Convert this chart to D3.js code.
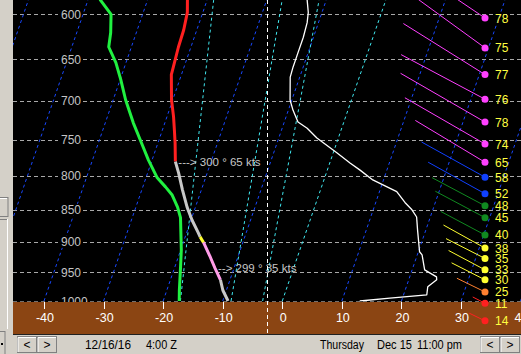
<!DOCTYPE html>
<html lang="en">
<head>
<meta charset="utf-8">
<title>Skew-T sounding</title>
<script src="https://d3js.org/d3.v7.min.js"></script>
<style>
  body { margin: 0; background: #d4d0c8; overflow: hidden; }
  svg { display: block; font-family: "Liberation Sans", Arial, sans-serif; }
</style>
</head>
<body>
<div id="chart"></div>
<script>
// grid
const pressureLevels = [600, 650, 700, 750, 800, 850, 900, 950, 1000];
const tempTicks = [-40, -30, -20, -10, 0, 10, 20, 30, 40];
const isotherms = [-70, -60, -50, -40, -30, -20, -10, 0, 10, 20, 30, 40];
// cyan mixing ratio lines: temperature at 1000 hPa and at the top (585 hPa)
const mixBottom = [-17.1, -8.6, -3.3];
const mixTop = [-28.9, -17.4, -11.2];

// dewpoint profile [hPa, °C]
const dewpoint = [[580, -48.5], [585, -47.9], [600, -45.3], [620, -44.3], [636, -43.8], [654, -41.7],
  [674, -39.9], [699, -37.9], [728, -35.3], [751, -33.1], [778, -30.6], [803, -28.1], [816, -26.2],
  [828, -24.6], [846, -23.0], [862, -21.9], [913, -19.9], [946, -18.9], [981, -17.9], [1000, -17.3]];

// temperature profile, split by colour
const tempRed = [[580, -33.5], [585, -33.3], [598, -32.6], [617, -32.2], [636, -32.1], [659, -31.8],
  [668, -31.7], [699, -30.2], [720, -28.9], [741, -27.8], [755, -27.1], [780, -26.0]];
const tempGray = [[780, -26.0], [796, -24.8], [820, -23.2], [846, -21.4], [866, -19.8], [886, -18.0], [892, -17.5]];
const tempYellow = [[892, -17.5], [901, -16.6]];
const tempPink = [[901, -16.6], [925, -14.6], [943, -13.2], [963, -11.6]];
const tempGrayLow = [[963, -11.6], [981, -10.6], [1000, -9.1]];

// white profile
const whiteLine = [[580, -13.5], [585, -13.2], [598, -12.3], [609, -11.9], [625, -11.7], [643, -11.7],
  [659, -11.7], [671, -11.6], [699, -10.3], [712, -9.2], [727, -7.7], [735, -5.8], [748, -3.6],
  [768, 0.6], [782, 3.4], [792, 5.5], [806, 8.2], [823, 12.9], [839, 14.9], [850, 16.5], [861, 17.7],
  [881, 18.6], [916, 20.2], [921, 20.8], [946, 22.1], [958, 24.5], [963, 24.7], [975, 23.6],
  [989, 23.9], [995, 17.9], [1000, 13.0]];

// winds
const windP = [604, 637, 668, 698, 727, 756, 781, 802, 826, 844, 862, 889, 910, 927, 946, 963, 984, 1004, 1036];
const windSpeed = [78, 75, 77, 76, 78, 74, 65, 58, 52, 48, 45, 40, 38, 35, 33, 30, 25, 11, 14];
const windDir = [304, 306, 302, 298, 300, 300, 301, 299, 299, 298, 298, 298, 299, 297, 298, 297, 296, 297, 296];

const windNotes = [
  { p: 780, t: -26.0, text: "---> 300 ° 65 kts" },
  { p: 943, t: -13.2, text: "--> 299 ° 35 kts" }
];
const cursorTemp = -2.6;

const width = 521, height = 354;
const plotLeft = 13, groundTop = 302, groundBottom = 334;

const svg = d3.select("#chart").append("svg").attr("width", width).attr("height", height);

const y = d3.scaleLog().domain([1000, 600]).range([301, 14.3]);
const xBase = d3.scaleLinear().domain([-40, 30]).range([44, 461]);
const skew = 0.344;
const sx = (t, p) => xBase(t) + skew * (y(1000) - y(p));
const line = d3.line().x(d => sx(d[1], d[0])).y(d => y(d[0]));

svg.append("rect").attr("x", plotLeft).attr("y", 0).attr("width", width - plotLeft).attr("height", groundBottom)
  .attr("fill", "#000");

svg.append("clipPath").attr("id", "plot")
  .append("rect").attr("x", plotLeft).attr("y", 0).attr("width", width - plotLeft).attr("height", 301.5);

const g = svg.append("g").attr("clip-path", "url(#plot)");

// pressure lines
g.selectAll(".plev").data(pressureLevels).enter().append("line")
  .attr("x1", plotLeft).attr("x2", width)
  .attr("y1", d => Math.round(y(d)) + 0.5).attr("y2", d => Math.round(y(d)) + 0.5)
  .attr("stroke", d => d === 1000 ? "#e0e0e0" : "#a8a8a8")
  .attr("stroke-dasharray", "4,3");

// isotherms
g.selectAll(".iso").data(isotherms).enter().append("line")
  .attr("x1", d => sx(d, 1000)).attr("y1", y(1000))
  .attr("x2", d => sx(d, 560)).attr("y2", y(560))
  .attr("stroke", d => d === 0 ? "#40e8f0" : "#1848ff")
  .attr("stroke-width", 1)
  .attr("stroke-dasharray", "3,3");

// mixing ratio lines
g.selectAll(".mix").data(mixBottom).enter().append("line")
  .attr("x1", d => sx(d, 1000)).attr("y1", y(1000))
  .attr("x2", (d, i) => sx(mixTop[i], 585)).attr("y2", y(585))
  .attr("stroke", "#40e8f0")
  .attr("stroke-dasharray", "3,3");

// pressure labels
const plab = svg.append("g");
plab.selectAll("rect").data(pressureLevels).enter().append("rect")
  .attr("x", 58).attr("y", d => y(d) - 6)
  .attr("width", d => d === 1000 ? 28 : 23).attr("height", 12).attr("fill", "#000");
plab.selectAll("text").data(pressureLevels).enter().append("text")
  .attr("x", 61).attr("y", d => y(d) + 4.5)
  .attr("fill", "#c4c4c4").attr("font-size", 12)
  .text(d => d);

// profiles
const lines = svg.append("g").attr("clip-path", "url(#plot)").attr("fill", "none")
  .attr("stroke-linejoin", "round");
lines.append("path").datum(whiteLine).attr("d", line).attr("stroke", "#fff").attr("stroke-width", 1.3);
lines.append("path").datum(dewpoint).attr("d", line).attr("stroke", "#20f040").attr("stroke-width", 3);
[[tempRed, "#ff2020"], [tempGray, "#c8c8c8"], [tempYellow, "#ffff30"], [tempPink, "#ff9ce8"], [tempGrayLow, "#c8c8c8"]]
  .forEach(([d, c]) => lines.append("path").datum(d).attr("d", line).attr("stroke", c).attr("stroke-width", 3));

// wind notes
svg.selectAll(".note").data(windNotes).enter().append("text")
  .attr("x", d => sx(d.t, d.p) + 3).attr("y", d => y(d.p) + 4)
  .attr("fill", "#c8c8c8").attr("font-size", 11.5)
  .attr("xml:space", "preserve")
  .text(d => d.text);

// ground
svg.append("rect").attr("x", plotLeft).attr("y", groundTop).attr("width", width - plotLeft)
  .attr("height", groundBottom - groundTop).attr("fill", "#8b4513");

// cursor line
svg.append("line").attr("x1", Math.round(xBase(cursorTemp)) + 0.5).attr("x2", Math.round(xBase(cursorTemp)) + 0.5)
  .attr("y1", 0).attr("y2", groundBottom)
  .attr("stroke", "#fff").attr("stroke-dasharray", "4,3");

// temperature ticks
const ticks = svg.append("g");
ticks.selectAll("line").data(tempTicks).enter().append("line")
  .attr("x1", d => Math.round(xBase(d)) + 0.5).attr("x2", d => Math.round(xBase(d)) + 0.5)
  .attr("y1", groundTop).attr("y2", groundTop + 7).attr("stroke", "#fff");
ticks.selectAll("text").data(tempTicks).enter().append("text")
  .attr("x", d => xBase(d) + 1).attr("y", 322)
  .attr("text-anchor", "middle").attr("fill", "#fff").attr("font-size", 12.5)
  .text(d => d);

// wind barbs
const shaft = d3.scaleLinear().domain([0, 80]).range([0, 100]);
const windColor = d3.scaleThreshold().domain([20, 30, 40, 50, 60])
  .range(["#ff2020", "#ff8030", "#ffff30", "#108a20", "#1040ff", "#ff40ff"]);
const winds = windP.map((p, i) => ({ p, s: windSpeed[i], dir: windDir[i] }));
const dotX = 485;
const barbs = svg.append("g");
barbs.selectAll("line").data(winds).enter().append("line")
  .attr("x1", dotX).attr("y1", d => y(d.p))
  .attr("x2", d => dotX + shaft(d.s) * Math.sin(d.dir * Math.PI / 180))
  .attr("y2", d => y(d.p) - shaft(d.s) * Math.cos(d.dir * Math.PI / 180))
  .attr("stroke", d => windColor(d.s)).attr("stroke-width", 1);
barbs.selectAll("circle").data(winds).enter().append("circle")
  .attr("cx", dotX).attr("cy", d => y(d.p)).attr("r", 3.5)
  .attr("fill", d => windColor(d.s));
barbs.selectAll("text").data(winds).enter().append("text")
  .attr("x", 495).attr("y", d => y(d.p) + 4.5)
  .attr("fill", "#ffff40").attr("font-size", 12)
  .text(d => d.s);

// frame line under ground
svg.append("rect").attr("x", 0).attr("y", groundBottom).attr("width", width).attr("height", 1).attr("fill", "#202020");

// left panel
const panel = svg.append("g");
panel.append("rect").attr("x", 0).attr("y", 0).attr("width", plotLeft).attr("height", height).attr("fill", "#d4d0c8");
panel.append("rect").attr("x", -3).attr("y", 197.5).attr("width", 11).attr("height", 19)
  .attr("fill", "#d4d0c8").attr("stroke", "#808080");
panel.append("path").attr("d", "M0,198.5H7").attr("stroke", "#fff");
panel.append("path").attr("d", "M7.5,219V329").attr("stroke", "#fff");
panel.append("path").attr("d", "M0,219.5H7").attr("stroke", "#808080");
panel.append("rect").attr("x", -3).attr("y", 331.5).attr("width", 8).attr("height", 25)
  .attr("fill", "#d4d0c8").attr("stroke", "#808080");
panel.append("rect").attr("x", 1).attr("y", 343).attr("width", 2).attr("height", 2).attr("fill", "#000");

// status bar
const bar = svg.append("g");
bar.append("rect").attr("x", plotLeft).attr("y", groundBottom + 1).attr("width", width - plotLeft)
  .attr("height", height - groundBottom - 1).attr("fill", "#d4d0c8");
const buttons = [{ x: 17, t: "<" }, { x: 37, t: ">" }, { x: 480, t: "<" }, { x: 500, t: ">" }];
buttons.forEach(b => {
  bar.append("rect").attr("x", b.x + 0.5).attr("y", 336.5).attr("width", 19).attr("height", 16)
    .attr("fill", "#d4d0c8").attr("stroke", "#808080");
  bar.append("path").attr("d", `M${b.x + 1},352V337.5H${b.x + 19}`).attr("stroke", "#fff").attr("fill", "none");
  bar.append("text").attr("x", b.x + 10).attr("y", 349).attr("text-anchor", "middle")
    .attr("font-size", 12).attr("fill", "#000").text(b.t);
});
const statusText = [{ x: 85, w: 46, t: "12/16/16" }, { x: 146, w: 31, t: "4:00 Z" },
  { x: 320, w: 44, t: "Thursday" }, { x: 377, w: 35, t: "Dec 15" }, { x: 417, w: 45, t: "11:00 pm" }];
statusText.forEach(s => {
  bar.append("text").attr("x", s.x).attr("y", 349).attr("font-size", 12).attr("fill", "#000")
    .attr("textLength", s.w).attr("lengthAdjust", "spacingAndGlyphs").text(s.t);
});
</script>
</body>
</html>
